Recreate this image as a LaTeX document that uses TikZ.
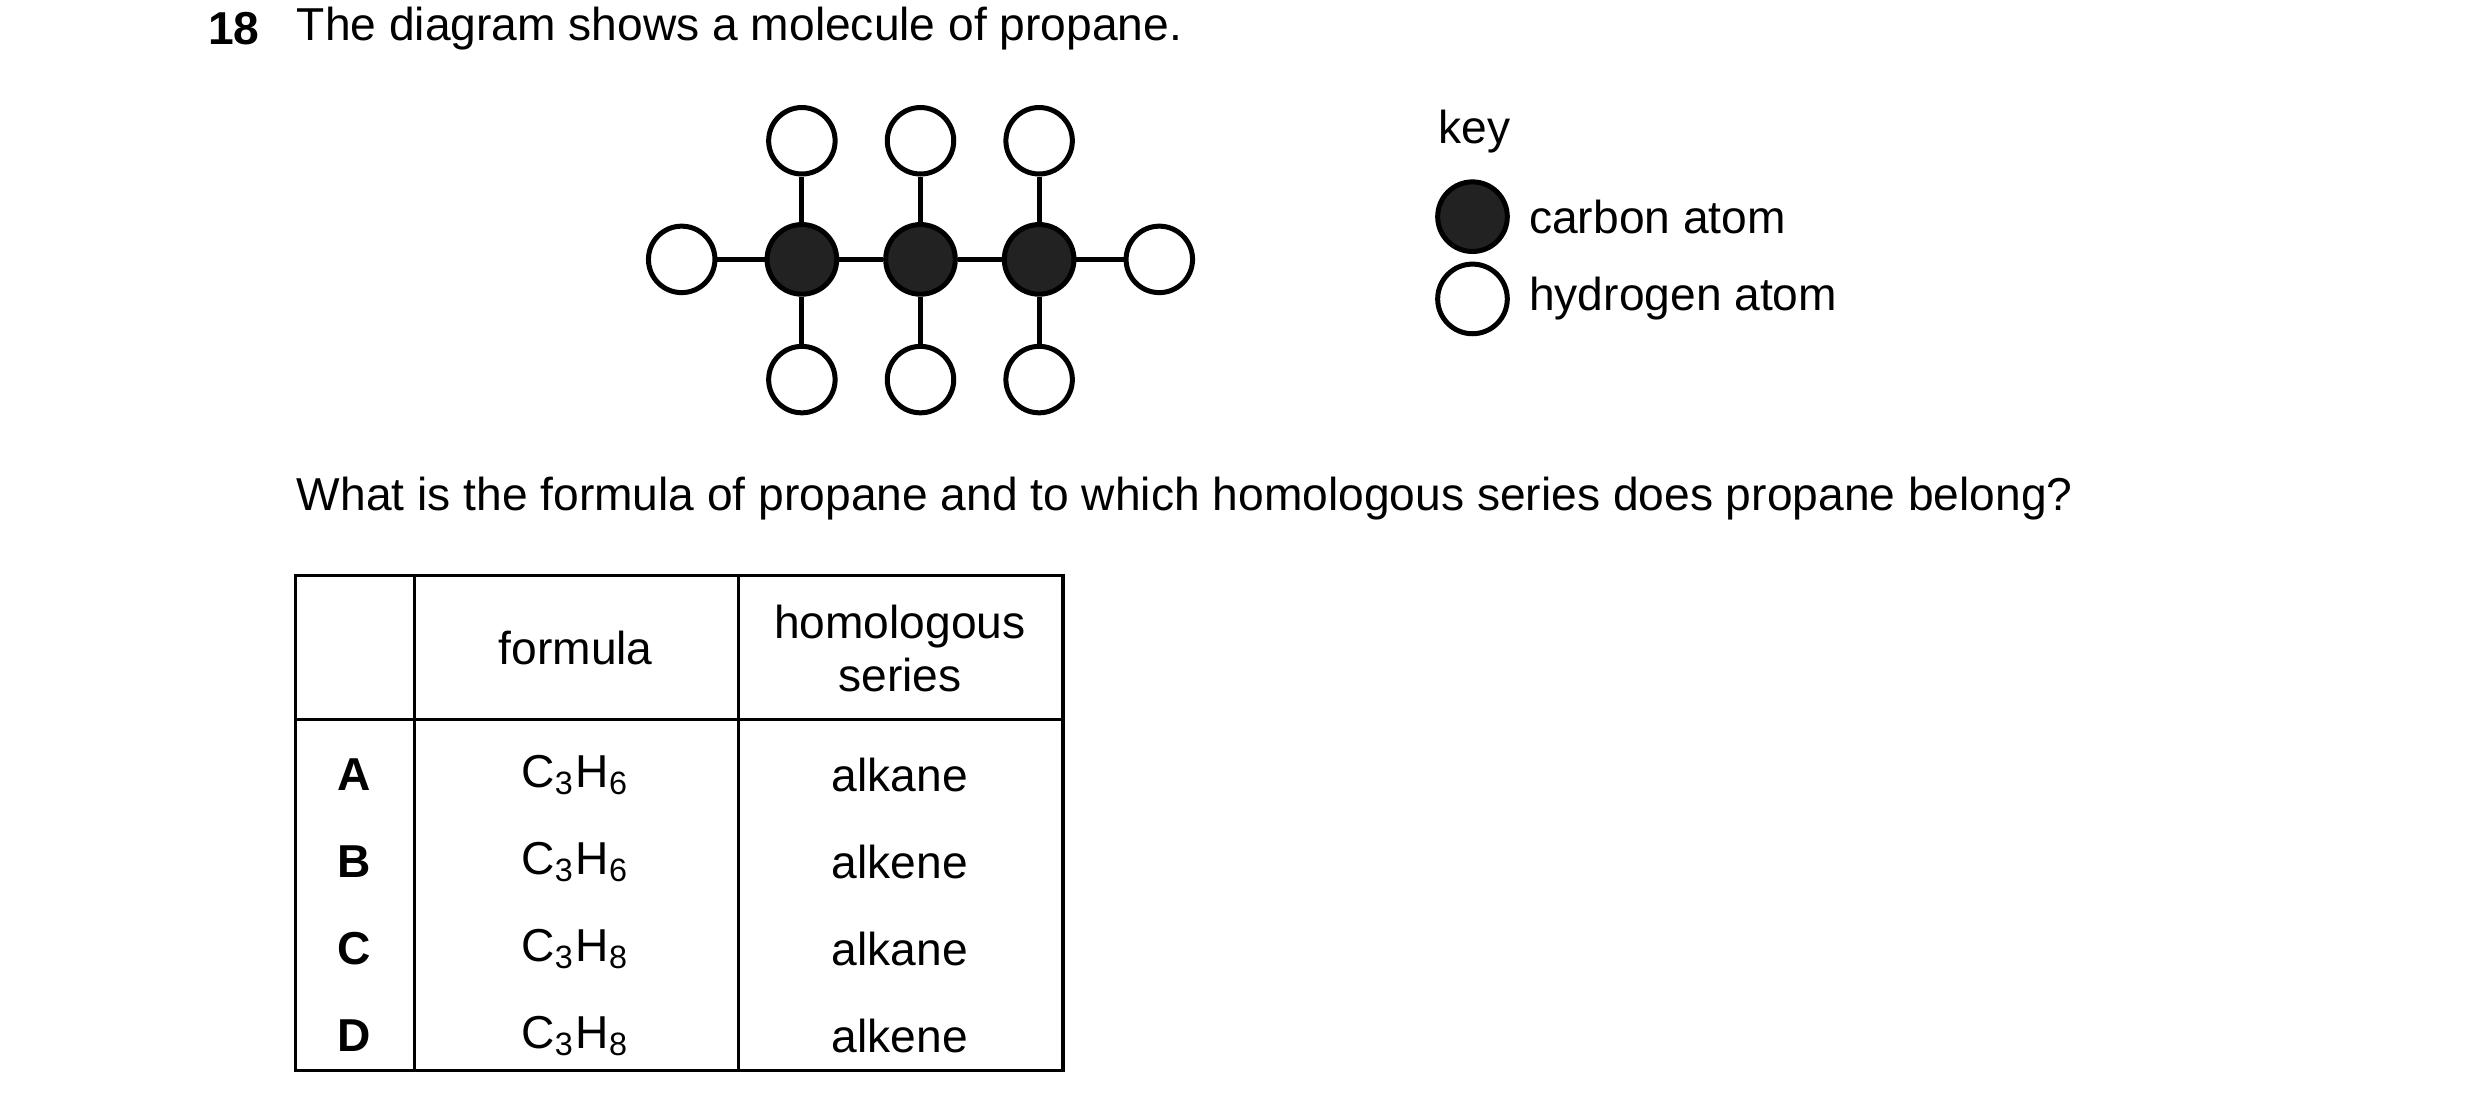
\documentclass[tikz,border=0pt]{standalone}
\usepackage{fontspec}
\setmainfont{Liberation Sans}
\usetikzlibrary{positioning}
\definecolor{atomdark}{HTML}{222222}
\tikzset{%
    carbon/.style={circle,draw=black,fill=atomdark,line width=0.9pt,minimum size=4.4mm,inner sep=0pt},
    hydro/.style={circle,draw=black,fill=white,line width=0.9pt,minimum size=4.2mm,inner sep=0pt},
    bond/.style={line width=0.9pt},
    txt/.style={anchor=west,inner sep=0pt,font=\fontsize{8.3}{10}\selectfont},
    cell/.style={inner sep=0pt,align=center,font=\fontsize{8.3}{9.6}\selectfont},
    grid/.style={line width=0.6pt}
}
\begin{document}
\begin{tikzpicture}[x=0.01cm,y=-0.01cm]
            \useasboundingbox (0,0) rectangle (1568,703);
            \node [txt,font=\fontsize{8.3}{10}\bfseries] (num) at (131,18) {18};
            \node [txt] (title) at (187,18) {The diagram shows a molecule of propane.};
            %%%%% molecule
            \foreach \i/\x in {1/507,2/582,3/657} {
                \node [carbon] (c\i) at (\x,164) {};
                \node [hydro] (ht\i) at (\x,89) {};
                \node [hydro] (hb\i) at (\x,240) {};
                \draw[bond] (c\i) -- (ht\i);
                \draw[bond] (c\i) -- (hb\i);
            }
            \node [hydro] (hl) at (431,164) {};
            \node [hydro] (hr) at (733,164) {};
            \draw[bond] (hl) -- (c1) -- (c2) -- (c3) -- (hr);
            %%%%% key
            \node [txt] (key) at (909,83) {key};
            \node [carbon] (kc) at (931,137) {};
            \node [txt,right=10pt of kc.center] (kct) {carbon atom};
            \node [hydro,minimum size=4.4mm] (kh) at (931,189) {};
            \node [txt,right=10pt of kh.center] (kht) {hydrogen atom};
            %%%%% question
            \node [txt] (quest) at (187,315) {What is the formula of propane and to which homologous series does propane belong?};
            %%%%% table
            \draw[grid] (187,364) rectangle (672,677);
            \draw[grid] (187,455) -- (672,455);
            \draw[grid] (262,364) -- (262,677);
            \draw[grid] (467,364) -- (467,677);
            \node [cell] (hf) at (364,410) {formula};
            \node [cell] (hs) at (569,410) {homologous\\series};
            \foreach \l/\f/\s/\y in {A/6/alkane/490,B/6/alkene/545,C/8/alkane/600,D/8/alkene/655} {
                \node [cell,font=\fontsize{8.3}{10}\bfseries] (l\l) at (224,\y) {\l};
                \node [cell] (f\l) at (364,\y) {C\textsubscript{3}H\textsubscript{\f}};
                \node [cell] (s\l) at (569,\y) {\s};
            }
\end{tikzpicture}
\end{document}
